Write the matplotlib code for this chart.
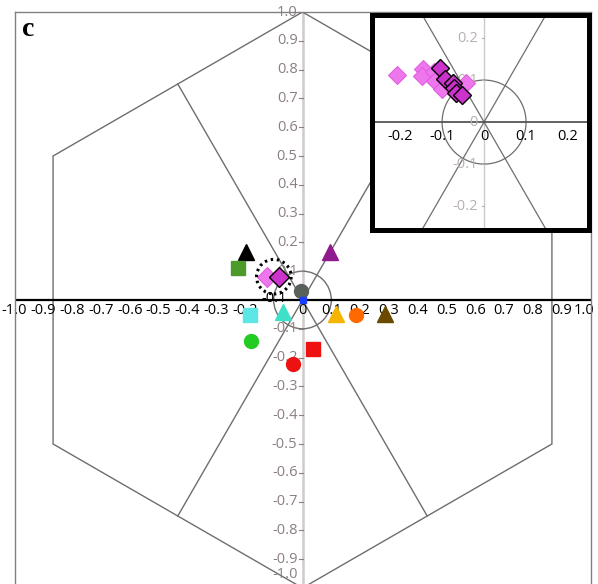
import numpy as np
import matplotlib.pyplot as plt
from matplotlib.patches import Circle, Polygon

plt.rcParams['font.family'] = ['Open Sans', 'DejaVu Sans']

# main panel: one point per sample (phasor coordinates)
main_x = [-0.197, -0.225, 0.095, -0.006, 0.0, -0.182, -0.069, 0.116, 0.185, 0.286, -0.180, 0.038, -0.032]
main_y = [0.168, 0.112, 0.166, 0.031, 0.0, -0.052, -0.041, -0.050, -0.052, -0.050, -0.141, -0.170, -0.222]
main_marker = ['^', 's', '^', 'o', 's', 's', '^', '^', 'o', '^', 'o', 's', 'o']
main_color = ['#000000', '#4c9a2a', '#8e1a8e', '#5a605a', '#1a3cff', '#5ce6e6', '#40e0c8',
              '#f5b400', '#ff6a00', '#6b4a00', '#22cc22', '#ee1111', '#ee1111']

# the two averaged diamonds in the main panel
avg_x = [-0.122, -0.081]
avg_y = [0.081, 0.081]

# inset: individual replicates
light_x = [-0.208, -0.145, -0.149, -0.119, -0.117, -0.100, -0.042]
light_y = [0.113, 0.127, 0.110, 0.119, 0.097, 0.079, 0.094]
dark_x = [-0.105, -0.092, -0.074, -0.071, -0.068, -0.052]
dark_y = [0.129, 0.102, 0.094, 0.080, 0.070, 0.064]

main_ticks = np.round(np.arange(-1.0, 1.01, 0.1), 1)
inset_ticks = [-0.2, -0.1, 0, 0.1, 0.2]

LIGHT = '#ee77ee'
DARK = '#cc33cc'
LINE = '#6e6e6e'
YLAB = '#8b7f80'
FS = 10.5


def fmt(v):
    return '0' if v == 0 else '%.1f' % v


def draw_geometry(ax, hexagon=True, lw=1.0):
    ang = np.deg2rad([90, 150, 210, 270, 330, 30])
    if hexagon:
        ax.add_patch(Polygon(np.c_[np.cos(ang), np.sin(ang)], closed=True,
                             fill=False, ec=LINE, lw=lw, zorder=1))
    for a in (60, 120):
        t = np.deg2rad(a)
        r = 0.866 if hexagon else 2
        ax.plot([r * np.cos(t), -r * np.cos(t)], [r * np.sin(t), -r * np.sin(t)],
                color=LINE, lw=lw, zorder=1)
    ax.add_patch(Circle((0, 0), 0.1, fill=False, ec=LINE, lw=lw, zorder=1))


fig = plt.figure(figsize=(5.98, 5.84), dpi=100)

# ---- main panel ----
ax = fig.add_axes([14.5 / 598, -4 / 584, 576 / 598, 576 / 584])
ax.set_xlim(-1, 1)
ax.set_ylim(-1, 1)
ax.set_xticks([])
ax.set_yticks([])
for s in ('left', 'top', 'right'):
    ax.spines[s].set_color('#808080')
    ax.spines[s].set_linewidth(1.0)
ax.spines['bottom'].set_visible(False)

ax.axvline(0, color='#d2caca', lw=1.8, zorder=0)
draw_geometry(ax)
ax.axhline(0, color='black', lw=1.6, zorder=2)

for v in main_ticks:
    if v == 0:
        continue
    dy = 14 if v == -1.0 else 0   # keep the last label inside the picture
    ax.annotate(fmt(v), (0, v), xytext=(-5, dy), textcoords='offset pixels',
                ha='right', va='center', fontsize=FS, color=YLAB, zorder=2)
    ax.plot([-0.012, 0], [v, v], color=YLAB, lw=0.8, zorder=1)
for v in main_ticks:
    dy = 2 if v == -0.1 else -11
    dx = -6 if v == 1.0 else 0
    ax.annotate(fmt(v), (v, 0), xytext=(dx, dy), textcoords='offset pixels',
                ha='center', va='center', fontsize=FS, color='black', zorder=2)

for x, y, m, c in zip(main_x, main_y, main_marker, main_color):
    ms = 4.5 if c == '#1a3cff' else (12 if m == '^' else 10)
    ax.plot(x, y, m, ms=ms, color=c, mec=c, zorder=4)

ax.plot(avg_x[0], avg_y[0], 'D', ms=10.5, color=LIGHT, mec='#e060e0', mew=0.8, zorder=4)
ax.plot(avg_x[1], avg_y[1], 'D', ms=10.5, color=DARK, mec='black', mew=1.0, zorder=5)
ax.add_patch(Circle((np.mean(avg_x) + 0.002, np.mean(avg_y)), 0.06, fill=False,
                    ec='black', lw=2.2, ls=(0, (0.8, 1.2)), zorder=6))

fig.text(28 / 598, 1 - 30 / 584, 'c', fontsize=20, fontweight='bold',
         family='Liberation Serif', ha='center', va='center')

# ---- inset ----
ins = fig.add_axes([372 / 598, (584 - 230) / 584, 217 / 598, 215 / 584])
ins.set_xlim(-0.267, 0.25)
ins.set_ylim(-0.257, 0.255)
ins.set_xticks([])
ins.set_yticks([])
for s in ins.spines.values():
    s.set_color('black')
    s.set_linewidth(3.6)
ins.axvline(0, color='#cfc8c8', lw=1.0, zorder=0)
draw_geometry(ins, hexagon=False, lw=0.9)
ins.axhline(0, color='#555555', lw=1.3, zorder=2)
for v in inset_ticks:
    ins.annotate(fmt(v), (0, v), xytext=(-6, 0), textcoords='offset pixels',
                 ha='right', va='center', fontsize=FS, color='#b8b0b0', zorder=2)
    if v != 0:
        ins.plot([-0.006, 0], [v, v], color='#b8b0b0', lw=0.8, zorder=1)
    ins.annotate(fmt(v), (v, 0), xytext=(0, -14), textcoords='offset pixels',
                 ha='center', va='center', fontsize=FS, color='black', zorder=2)

ins.plot(light_x, light_y, 'D', ms=9.5, color=LIGHT, mec='#e060e0', mew=0.8, ls='none', zorder=4)
ins.plot(dark_x, dark_y, 'D', ms=9.5, color=DARK, mec='black', mew=1.0, ls='none', zorder=5)

fig.savefig('out.png', dpi=100)
